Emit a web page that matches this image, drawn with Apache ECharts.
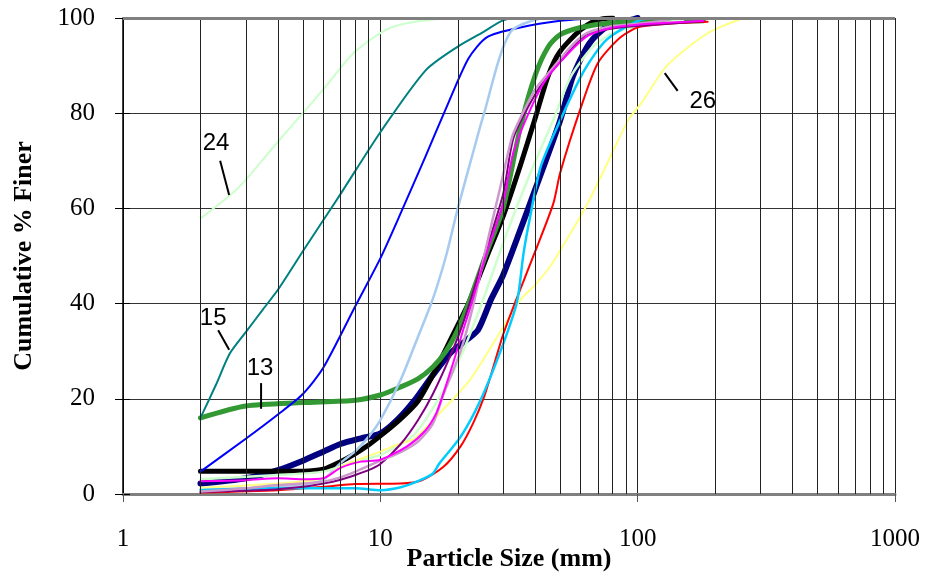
<!DOCTYPE html>
<html>
<head>
<meta charset="utf-8">
<script src="https://cdn.jsdelivr.net/npm/echarts@6/dist/echarts.min.js"></script>
<style>html,body{margin:0;padding:0;background:#fff}#c{width:927px;height:576px}</style>
</head>
<body>
<div id="c"></div>
<script>
// ---- data (particle size mm, cumulative % finer) ----
const curve24 = [[2,57.9],[2.6,62.7],[3,66],[4,74],[5,80],[6,85],[8,93],[11,98],[16,99.7],[23,100]];
const curve15 = [[2,16],[2.3,23],[2.6,29.5],[3,34],[3.5,38.8],[4,42.9],[5,51],[6,57.5],[7,63],[10,76],[15,89],[20,94],[25,97],[30,99.5],[35,100],[45,100]];
const curve13 = [[2,16],[3,18.5],[5,19.2],[8,19.7],[10,20.8],[12,22.5],[14,24.2],[16,26.7],[18,30],[20,34.5],[22,40],[26,51],[30,60],[35,77],[40,88],[45,94],[50,96.5],[60,98],[80,99],[120,99.2],[180,99.4]];
const curveBlue = [[2,4.7],[3,11.6],[4,16.7],[5,21],[6,26.5],[8,39.5],[10,49.5],[12,59],[15,71],[18,81],[22,91.5],[26,96],[35,98],[50,99.4],[70,100]];
const curveLightBlue = [[2,1],[3,1.2],[4,1.6],[5,2],[6,3],[7,6.5],[8,9],[9,12],[10,15.5],[12,24],[14,33],[16,41],[18,50],[20,60],[23,72],[25,79],[32,97],[45,100],[60,100]];
const curveBlack = [[2,4.8],[3,4.8],[4,4.8],[5,4.8],[6,5.2],[7,6.8],[8,8.5],[9,10.3],[10,12.2],[12,15.8],[14,19.5],[16,25],[18,30.5],[20,35.5],[22,40],[26,50],[30,58.3],[35,69],[40,79],[45,88],[50,93],[60,97.5],[70,99.6],[80,100]];
const curveNavy = [[2,2.2],[3,3.3],[4,5],[5,7],[6,8.9],[7,10.5],[8.4,11.7],[10,12.7],[11.6,15.5],[13.5,19.5],[16,25],[18.7,29.6],[21.7,32.4],[24,34.5],[27,41],[30,46],[35,55.5],[40,64],[50,78.5],[56,87.7],[65,94.7],[76,98.2],[94,99.6],[100,100]];
const curveMagenta = [[2,2.7],[3,2.9],[4,3.3],[5,3.1],[6,3.3],[7,5.5],[8.4,6.8],[10,7.2],[12.7,10],[15,13.4],[16.5,17],[17.6,21.2],[19.3,28],[21,34.5],[22.4,39.3],[26,51],[30,61],[33,72],[40,83],[46,88.5],[63,96],[80,98],[100,98.6],[180,99.4]];
const curvePurple = [[2,0.4],[3,0.7],[4,1],[5,1.5],[6,2.2],[7,3],[8,4],[9,5],[10,6.3],[12,10.5],[14,15.5],[16,21],[18.7,29],[21,36],[25,49],[30,63],[33,75],[40,84],[46,88.5],[63,96.5],[80,97.8],[100,98.3],[180,99.3]];
const curveThistle = [[2,0.5],[3,1.2],[4,1.9],[5,2.2],[6,2.6],[7,3.5],[8,4.7],[10,7],[12,8.8],[14,11],[16,14.8],[17.6,21],[20.5,30],[22.8,39],[26,52.7],[29.3,64.6],[32.5,75],[35,79],[40,85],[46,89],[55,94],[63.5,96.8],[80,98.3],[100,98.8],[130,99.5]];
const curvePaleGreen = [[2,3.1],[4,4],[6,4.7],[8,6.8],[10,8.2],[12,10.5],[13.5,12.4],[16,18],[20,27.5],[24.5,39.3],[31,54.8],[38,67],[47,78.6],[55,87.7],[67,94],[80,96.8],[100,98.2],[150,99.6]];
const curve26 = [[2,1.3],[4,2.2],[6,3.3],[7,5.7],[8,7],[10,8.9],[12,10.6],[13.5,11.5],[16,15.5],[20,21],[23,25],[27,31],[32,37.5],[35,40.8],[40,44],[46,48],[52,52.7],[62,59.7],[72,66.7],[92,78.6],[103,82],[130,90],[187,96.8],[258,100]];
const curveRed = [[2,0.3],[4,0.8],[6,1.5],[8,2.1],[12,2.2],[14.5,2.9],[17.6,5.7],[20.5,10],[23,15],[25.3,20.4],[27.5,26.7],[30,33.5],[33,39.5],[40,51],[47,61],[50,67.5],[60,81],[70,90.5],[86,96],[103,98.2],[187,99.2]];
const curveCyan = [[2,0.8],[4,1.2],[8,1.2],[10,0.8],[12,1.4],[14.3,2.9],[16,4.3],[17,6.5],[20.5,12],[24.5,19.7],[30,31.5],[34,40.5],[36,50.5],[38,57.6],[42,68.8],[50,78.5],[62,89],[76,95.5],[103,99.6],[130,100]];

const minorGridX = [2,3,4,5,6,7,8,9,20,30,40,50,60,70,80,90,200,300,400,500,600,700,800,900];
const yTicks = [0,20,40,60,80,100];

// annotations: tip on curve, tail of pointer, text centre (data coords)
const notes = [
  {text:'24', tip:[2.585,62.8], tail:[2.385,70], at:[2.30,73.7]},
  {text:'15', tip:[2.585,30.3], tail:[2.343,34.4], at:[2.24,37]},
  {text:'13', tip:[3.44,17.9], tail:[3.44,23.3], at:[3.41,26.3]},
  {text:'26', tip:[127.4,88.4], tail:[143,84.7], at:[179,82.4]}
];

const thick = [
  {name:'navy', data:curveNavy, color:'#000080', width:6},
  {name:'black', data:curveBlack, color:'#000000', width:5},
  {name:'13', data:curve13, color:'#339933', width:5}
];
const thin = [
  {name:'24', data:curve24, color:'#ccffcc', width:2},
  {name:'15', data:curve15, color:'#008080', width:2},
  {name:'blue', data:curveBlue, color:'#0000ff', width:2},
  {name:'lightblue', data:curveLightBlue, color:'#a6caf0', width:2.5},
  {name:'palegreen', data:curvePaleGreen, color:'#ccffcc', width:2.5},
  {name:'26', data:curve26, color:'#ffff80', width:2},
  {name:'red', data:curveRed, color:'#ff0000', width:2},
  {name:'cyan', data:curveCyan, color:'#00ccff', width:2.5},
  {name:'purple', data:curvePurple, color:'#800080', width:2},
  {name:'thistle', data:curveThistle, color:'#cc99cc', width:2.5},
  {name:'magenta', data:curveMagenta, color:'#ff00ff', width:2}
];

const chart = echarts.init(document.getElementById('c'), null, {renderer:'canvas'});
const serif = 'Liberation Serif, Times New Roman, serif';

const series = [{
  type:'line', data:[], silent:true,
  markLine:{
    silent:true, symbol:['none','none'], animation:false,
    label:{show:false},
    lineStyle:{color:'#222', width:1, type:'solid'},
    data: minorGridX.map(v => ({xAxis:v})).concat([{yAxis:100, lineStyle:{color:'#808080', width:3, type:'solid'}}])
  }
}];
thick.concat(thin).forEach(s => series.push({
  type:'line', name:s.name, data:s.data, showSymbol:false, symbol:'none',
  smooth:0.25, animation:false,
  lineStyle:{color:s.color, width:s.width, join:'round', cap:'round'}, itemStyle:{color:s.color}
}));

chart.setOption({
  animation:false,
  grid:{left:123, right:32, top:18, bottom:82, containLabel:false, outerBoundsMode:'none'},
  xAxis:{
    type:'log', logBase:10, min:1, max:1000,
    name:'Particle Size (mm)', nameLocation:'middle', nameGap:52, nameMoveOverlap:false,
    nameTextStyle:{fontFamily:serif, fontWeight:'bold', fontSize:26, color:'#000'},
    axisLine:{lineStyle:{color:'#808080', width:3}},
    axisTick:{show:true, length:8, lineStyle:{color:'#555', width:1}},
    axisLabel:{fontFamily:serif, fontSize:25, color:'#000', margin:33, formatter: v => String(v)},
    splitLine:{show:true, lineStyle:{color:'#222', width:1}}
  },
  yAxis:[{
    type:'value', min:0, max:100, interval:20,
    name:'Cumulative % Finer', nameLocation:'middle', nameGap:86, nameMoveOverlap:false,
    nameTextStyle:{fontFamily:serif, fontWeight:'bold', fontSize:26, color:'#000'},
    axisLine:{show:true, lineStyle:{color:'#000', width:1.5}},
    axisTick:{show:true, length:8, lineStyle:{color:'#000', width:1}},
    axisLabel:{fontFamily:serif, fontSize:25, color:'#000', margin:28,
      formatter: v => yTicks.indexOf(v) >= 0 ? String(v) : ''},
    splitLine:{show:true, lineStyle:{color:'#333', width:1}}
  },{
    type:'value', min:0, max:100, interval:20, position:'left',
    axisLine:{show:false}, axisLabel:{show:false}, splitLine:{show:false},
    axisTick:{show:true, inside:true, length:7, lineStyle:{color:'#000', width:1}}
  }],
  series: series
});

function drawNotes(){
  const g = [];
  notes.forEach(n => {
    const p1 = chart.convertToPixel({gridIndex:0}, n.tip);
    const p2 = chart.convertToPixel({gridIndex:0}, n.tail);
    const pt = chart.convertToPixel({gridIndex:0}, n.at);
    g.push({type:'line', shape:{x1:p1[0], y1:p1[1], x2:p2[0], y2:p2[1]}, style:{stroke:'#000', lineWidth:2}, z:100});
    g.push({type:'text', x:pt[0], y:pt[1], style:{text:n.text, fill:'#000', font:'24px Liberation Sans, Arial, sans-serif', textAlign:'center', textVerticalAlign:'middle'}, z:100});
  });
  chart.setOption({graphic:g});
}
drawNotes();
</script>
</body>
</html>
